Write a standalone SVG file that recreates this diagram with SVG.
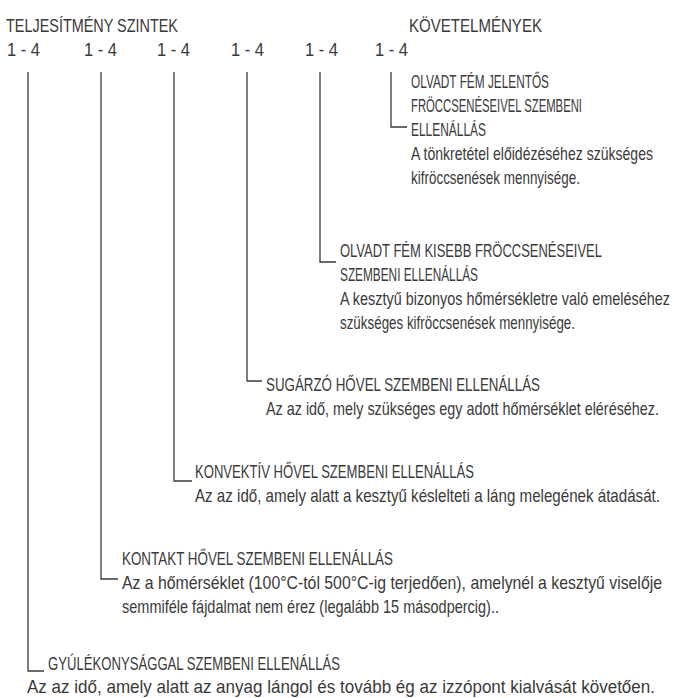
<svg xmlns="http://www.w3.org/2000/svg" width="674" height="698" viewBox="0 0 674 698">
<style>
.t{font-family:"Liberation Sans",Arial,sans-serif;font-size:18px;fill:#3a3a3a}
.c{fill:none;stroke:#3a3a3a;stroke-width:1.3}
</style>
<rect width="674" height="698" fill="#fff"/>
<g id="header" transform="scale(0.8,1)">
<text class="t" x="7.5" y="32" textLength="215" lengthAdjust="spacingAndGlyphs">TELJESÍTMÉNY SZINTEK</text>
<text class="t" x="511.25" y="32" textLength="166.25" lengthAdjust="spacingAndGlyphs">KÖVETELMÉNYEK</text>
<text class="t" x="8.75" y="56" textLength="41.25" lengthAdjust="spacingAndGlyphs">1 - 4</text>
<text class="t" x="105" y="56" textLength="41.25" lengthAdjust="spacingAndGlyphs">1 - 4</text>
<text class="t" x="196.25" y="56" textLength="41.25" lengthAdjust="spacingAndGlyphs">1 - 4</text>
<text class="t" x="288.75" y="56" textLength="41.25" lengthAdjust="spacingAndGlyphs">1 - 4</text>
<text class="t" x="381.25" y="56" textLength="41.25" lengthAdjust="spacingAndGlyphs">1 - 4</text>
<text class="t" x="468.75" y="56" textLength="41.25" lengthAdjust="spacingAndGlyphs">1 - 4</text>
</g>
<g id="connectors">
<path class="c" d="M391,72V127H407"/>
<path class="c" d="M320,72V262H336"/>
<path class="c" d="M247,72V381H262"/>
<path class="c" d="M174,72V481H192"/>
<path class="c" d="M101,72V579H118"/>
<path class="c" d="M28,72V671H44"/>
</g>
<g id="node-olvadt-jelentos" transform="scale(0.8,1)">
<text class="t" x="513.75" y="88" textLength="172.5" lengthAdjust="spacingAndGlyphs">OLVADT FÉM JELENTŐS</text>
<text class="t" x="513.75" y="112" textLength="213.75" lengthAdjust="spacingAndGlyphs">FRÖCCSENÉSEIVEL SZEMBENI</text>
<text class="t" x="513.75" y="136" textLength="93.75" lengthAdjust="spacingAndGlyphs">ELLENÁLLÁS</text>
<text class="t" x="513.75" y="160" textLength="302.5" lengthAdjust="spacingAndGlyphs">A tönkretétel előidézéséhez szükséges</text>
<text class="t" x="513.75" y="184" textLength="211.25" lengthAdjust="spacingAndGlyphs">kifröccsenések mennyisége.</text>
</g>
<g id="node-olvadt-kisebb" transform="scale(0.8,1)">
<text class="t" x="425" y="257" textLength="327.5" lengthAdjust="spacingAndGlyphs">OLVADT FÉM KISEBB FRÖCCSENÉSEIVEL</text>
<text class="t" x="425" y="281" textLength="172.5" lengthAdjust="spacingAndGlyphs">SZEMBENI ELLENÁLLÁS</text>
<text class="t" x="425" y="305" textLength="412.5" lengthAdjust="spacingAndGlyphs">A kesztyű bizonyos hőmérsékletre való emeléséhez</text>
<text class="t" x="425" y="329" textLength="293.75" lengthAdjust="spacingAndGlyphs">szükséges kifröccsenések mennyisége.</text>
</g>
<g id="node-sugarzo" transform="scale(0.8,1)">
<text class="t" x="332.5" y="391" textLength="342.5" lengthAdjust="spacingAndGlyphs">SUGÁRZÓ HŐVEL SZEMBENI ELLENÁLLÁS</text>
<text class="t" x="332.5" y="415" textLength="491.25" lengthAdjust="spacingAndGlyphs">Az az idő, mely szükséges egy adott hőmérséklet eléréséhez.</text>
</g>
<g id="node-konvektiv" transform="scale(0.8,1)">
<text class="t" x="243.75" y="478" textLength="348.75" lengthAdjust="spacingAndGlyphs">KONVEKTÍV HŐVEL SZEMBENI ELLENÁLLÁS</text>
<text class="t" x="243.75" y="502" textLength="581.25" lengthAdjust="spacingAndGlyphs">Az az idő, amely alatt a kesztyű késlelteti a láng melegének átadását.</text>
</g>
<g id="node-kontakt" transform="scale(0.8,1)">
<text class="t" x="152.5" y="565" textLength="338.75" lengthAdjust="spacingAndGlyphs">KONTAKT HŐVEL SZEMBENI ELLENÁLLÁS</text>
<text class="t" x="152.5" y="589" textLength="675" lengthAdjust="spacingAndGlyphs">Az a hőmérséklet (100°C-tól 500°C-ig terjedően), amelynél a kesztyű viselője</text>
<text class="t" x="152.5" y="613" textLength="471.25" lengthAdjust="spacingAndGlyphs">semmiféle fájdalmat nem érez (legalább 15 másodpercig)..</text>
</g>
<g id="node-gyulekonysag" transform="scale(0.8,1)">
<text class="t" x="60" y="670" textLength="365" lengthAdjust="spacingAndGlyphs">GYÚLÉKONYSÁGGAL SZEMBENI ELLENÁLLÁS</text>
<text class="t" x="33.75" y="693" textLength="785" lengthAdjust="spacingAndGlyphs">Az az idő, amely alatt az anyag lángol és tovább ég az izzópont kialvását követően.</text>
</g>
</svg>
